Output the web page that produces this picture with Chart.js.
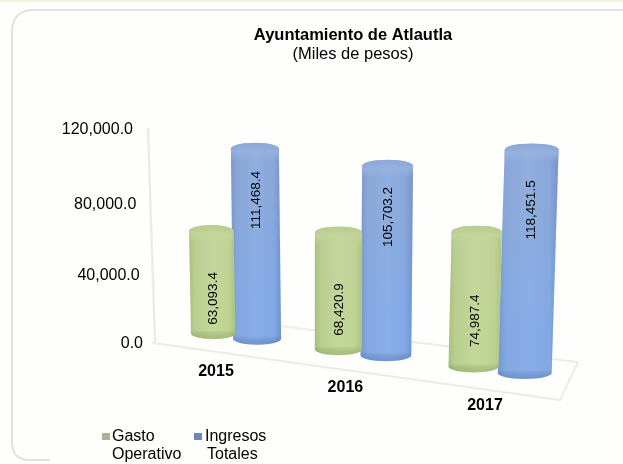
<!DOCTYPE html>
<html><head><meta charset="utf-8">
<style>html,body{margin:0;padding:0;background:#fff}canvas{display:block;filter:blur(0.55px)}</style>
<script src="https://cdn.jsdelivr.net/npm/chart.js@4/dist/chart.umd.min.js"></script>
</head><body><canvas id="c" width="623" height="464"></canvas>
<script>
const categories = ['2015', '2016', '2017'];
const gastoOperativo = [63093.4, 68420.9, 74987.4];
const ingresosTotales = [111468.4, 105703.2, 118451.5];
const gastoLabels = ['Gasto', 'Operativo'];
const ingresosLabels = ['Ingresos', 'Totales'];
const yTicks = [0, 40000, 80000, 120000];
const FONT = '"Liberation Sans", Arial, sans-serif';

// Perspective of the floor and wall: chart-space -> screen
function sx(chart, u) {
  const s = chart.scales.x, mid = s.getPixelForValue(1), step = s.getPixelForValue(1) - s.getPixelForValue(0);
  const w = (u - mid) / step;
  return 362 + 132 * w + 5 * w * w;
}
const baseY = x => 333 + 0.128 * (x - 212);
const lean = x => (x - 330) * 0.00016;
const cylW = (x, pal) => 44.5 + pal.extra + (x - 212) * 0.022;

const palettes = [
  { stops: ['#a8be7c', '#b8cd8e', '#c4d79c', '#bfd394', '#abc280'], cap: '#c2d59a', capEdge: '#b6ca8c', low: 'rgba(120,140,60,0.28)', top: 'rgba(205,205,170,0.08)', bottom: 'rgba(180,215,120,0.06)', marker: '#a8b39a', labelAt: 0.34, depth: 0, extra: 0 },
  { stops: ['#7794ca', '#87a8dd', '#8eb0e6', '#86a9e2', '#7092cc'], cap: '#98b3de', capEdge: '#8ba6d2', low: 'rgba(50,90,190,0.28)', top: 'rgba(150,160,180,0.16)', bottom: 'rgba(100,160,245,0.12)', marker: '#6f86c0', labelAt: 0.73, depth: 0.054, extra: 2.5 }
];
const pxPerUnit = (x, pal) => (1.62 + pal.depth + 0.00068 * (x - 212)) / 1000;

function cylinder(ctx, chart, el, value, pal) {
  const xb = sx(chart, el.x);
  const yb = baseY(xb);
  const ys = chart.scales.y;
  const frac = (ys.bottom - ys.getPixelForValue(value)) / (ys.bottom - ys.top);
  const H = frac * ys.max * pxPerUnit(xb, pal);
  const xt = xb + lean(xb) * H, yt = yb - H;
  const W = cylW(xb, pal), r = W / 2, ry = 6;
  ctx.save();
  const path = () => {
    ctx.beginPath();
    ctx.moveTo(xt - r, yt);
    ctx.ellipse(xt, yt, r, ry, 0, Math.PI, 0, false);
    ctx.lineTo(xb + r, yb);
    ctx.ellipse(xb, yb, r, ry, 0, 0, Math.PI, false);
    ctx.closePath();
  };
  const left = Math.min(xt, xb) - r, right = Math.max(xt, xb) + r;
  const g = ctx.createLinearGradient(left, 0, right, 0);
  [0, 0.12, 0.5, 0.85, 1].forEach((p, i) => g.addColorStop(p, pal.stops[i]));
  path(); ctx.fillStyle = g; ctx.fill();
  path(); ctx.clip();
  // top-to-bottom tint of the body
  const v = ctx.createLinearGradient(0, yt, 0, yb);
  v.addColorStop(0, pal.top); v.addColorStop(0.25, pal.top); v.addColorStop(0.8, pal.bottom); v.addColorStop(1, pal.bottom);
  ctx.fillStyle = v; ctx.fillRect(left, yt - ry, right - left, H + 2 * ry);
  // darker foot
  const f = ctx.createLinearGradient(0, yb - 3, 0, yb + ry);
  f.addColorStop(0, 'rgba(0,0,0,0)'); f.addColorStop(1, pal.low);
  ctx.fillStyle = f; ctx.fillRect(left, yb - 3, right - left, ry + 5);
  // bevelled cap
  ctx.globalAlpha = 0.8;
  const c = ctx.createLinearGradient(0, yt - ry, 0, yt + ry + 6);
  c.addColorStop(0, pal.capEdge); c.addColorStop(0.5, pal.cap);
  c.addColorStop(1, pal.cap + '00');
  ctx.fillStyle = c; ctx.fillRect(left, yt - ry, right - left, 2 * ry + 6);
  ctx.restore();
  return { xb, yb, H, lean: lean(xb) };
}

const scene = {
  id: 'scene',
  beforeDraw(chart) {
    const ctx = chart.ctx, W = chart.width, H = chart.height;
    ctx.save();
    ctx.fillStyle = '#fefefc'; ctx.fillRect(0, 0, W, H);
    ctx.fillStyle = '#f1f1dc'; ctx.fillRect(0, 0, W, 2);
    ctx.strokeStyle = '#d9dad3'; ctx.lineWidth = 1.5;
    ctx.beginPath();
    ctx.moveTo(W + 5, 10); ctx.lineTo(34, 10);
    ctx.quadraticCurveTo(12, 10, 12, 32);
    ctx.lineTo(12, 442);
    ctx.quadraticCurveTo(12, 460, 30, 460);
    ctx.lineTo(50, 460);
    ctx.stroke();
    ctx.restore();
  },
  beforeDatasetsDraw(chart) {
    const ctx = chart.ctx, ys = chart.scales.y;
    ctx.save();
    const t = ys.getPixelForValue(ys.max), b = ys.getPixelForValue(0);
    ctx.lineCap = 'round';
    ctx.strokeStyle = '#ebebe8'; ctx.lineWidth = 2.5;
    ctx.beginPath(); ctx.moveTo(148, t); ctx.lineTo(155, b + 1); ctx.stroke();
    ctx.strokeStyle = '#ecebe6'; ctx.lineWidth = 2;
    ctx.beginPath(); ctx.moveTo(153, b + 1); ctx.lineTo(560, b + 58); ctx.stroke();
    ctx.strokeStyle = '#f1e9e6';
    ctx.beginPath(); ctx.moveTo(560, b + 58); ctx.lineTo(578, b + 20); ctx.lineTo(238, b - 21); ctx.stroke();
    ctx.restore();
  },
  beforeDatasetDraw(chart, args) {
    const ctx = chart.ctx, meta = args.meta, pal = palettes[args.index];
    const vals = chart.data.datasets[args.index].data;
    meta.data.forEach((el, i) => {
      const g = cylinder(ctx, chart, el, vals[i], pal);
      const yl = g.yb - g.H * pal.labelAt, xl = g.xb + g.lean * g.H * pal.labelAt;
      ctx.save();
      ctx.translate(xl + 1, yl);
      ctx.rotate(-Math.PI / 2);
      ctx.font = '13.5px ' + FONT;
      ctx.fillStyle = '#000';
      ctx.textAlign = 'center'; ctx.textBaseline = 'middle';
      ctx.fillText(vals[i].toLocaleString('en-US', { minimumFractionDigits: 1, maximumFractionDigits: 1 }), 0, 0);
      ctx.restore();
    });
    return false;
  },
  afterDraw(chart) {
    const ctx = chart.ctx, ys = chart.scales.y, xs = chart.scales.x;
    ctx.save();
    ctx.fillStyle = '#000';
    ctx.textBaseline = 'middle';
    ctx.font = '16px ' + FONT;
    ctx.textAlign = 'right';
    ys.ticks.forEach(tk => {
      const f = tk.value / ys.max;
      const y = ys.getPixelForValue(tk.value) + 2 * (1 - f) + 15 * f * (1 - f);
      ctx.fillText(tk.label, 143 - 10 * f, y);
    });
    ctx.font = 'bold 16px ' + FONT;
    ctx.textAlign = 'center';
    categories.forEach((c, i) => {
      const x = sx(chart, xs.getPixelForValue(i));
      ctx.fillText(c, x - 19 + (x - 235) * 0.019, baseY(x) + 35.5);
    });
    ctx.font = '16px ' + FONT;
    ctx.textAlign = 'left';
    const lx = [112, 205], mx = [102, 194], lines = [gastoLabels, ingresosLabels];
    lines.forEach((ln, i) => {
      ctx.fillStyle = palettes[i].marker;
      ctx.fillRect(mx[i], 433, 8, 7);
      ctx.fillStyle = '#000';
      ln.forEach((s, k) => ctx.fillText(s, k === 1 && i === 1 ? lx[i] + 2 : lx[i], 437 + 18 * k));
    });
    ctx.restore();
  }
};

new Chart(document.getElementById('c'), {
  type: 'bar',
  data: {
    labels: categories,
    datasets: [
      { label: gastoLabels.join(' '), data: gastoOperativo, backgroundColor: '#b9cf8c' },
      { label: ingresosLabels.join(' '), data: ingresosTotales, backgroundColor: '#86a8db' }
    ]
  },
  plugins: [scene],
  options: {
    responsive: false, animation: false,
    layout: { padding: { left: 136, right: 53, top: 26, bottom: 114 } },
    datasets: { bar: { categoryPercentage: 0.72, barPercentage: 1 } },
    plugins: {
      legend: { display: false }, tooltip: { enabled: false },
      title: { display: true, text: 'Ayuntamiento de Atlautla', color: '#000', font: { family: FONT, size: 16.5, weight: 'bold', lineHeight: 1.1 }, padding: { top: 0, bottom: 1 } },
      subtitle: { display: true, text: '(Miles de pesos)', color: '#000', font: { family: FONT, size: 16.5, weight: 'normal', lineHeight: 1.1 }, padding: { top: 0, bottom: 66 } }
    },
    scales: {
      x: { display: true, grid: { display: false }, border: { display: false }, ticks: { display: false } },
      y: {
        min: 0, max: 120000, afterBuildTicks(s) { s.ticks = yTicks.map(v => ({ value: v })); },
        grid: { display: false }, border: { display: false },
        ticks: { display: false, callback: v => v.toLocaleString('en-US', { minimumFractionDigits: 1, maximumFractionDigits: 1 }) }
      }
    }
  }
});
</script></body></html>
